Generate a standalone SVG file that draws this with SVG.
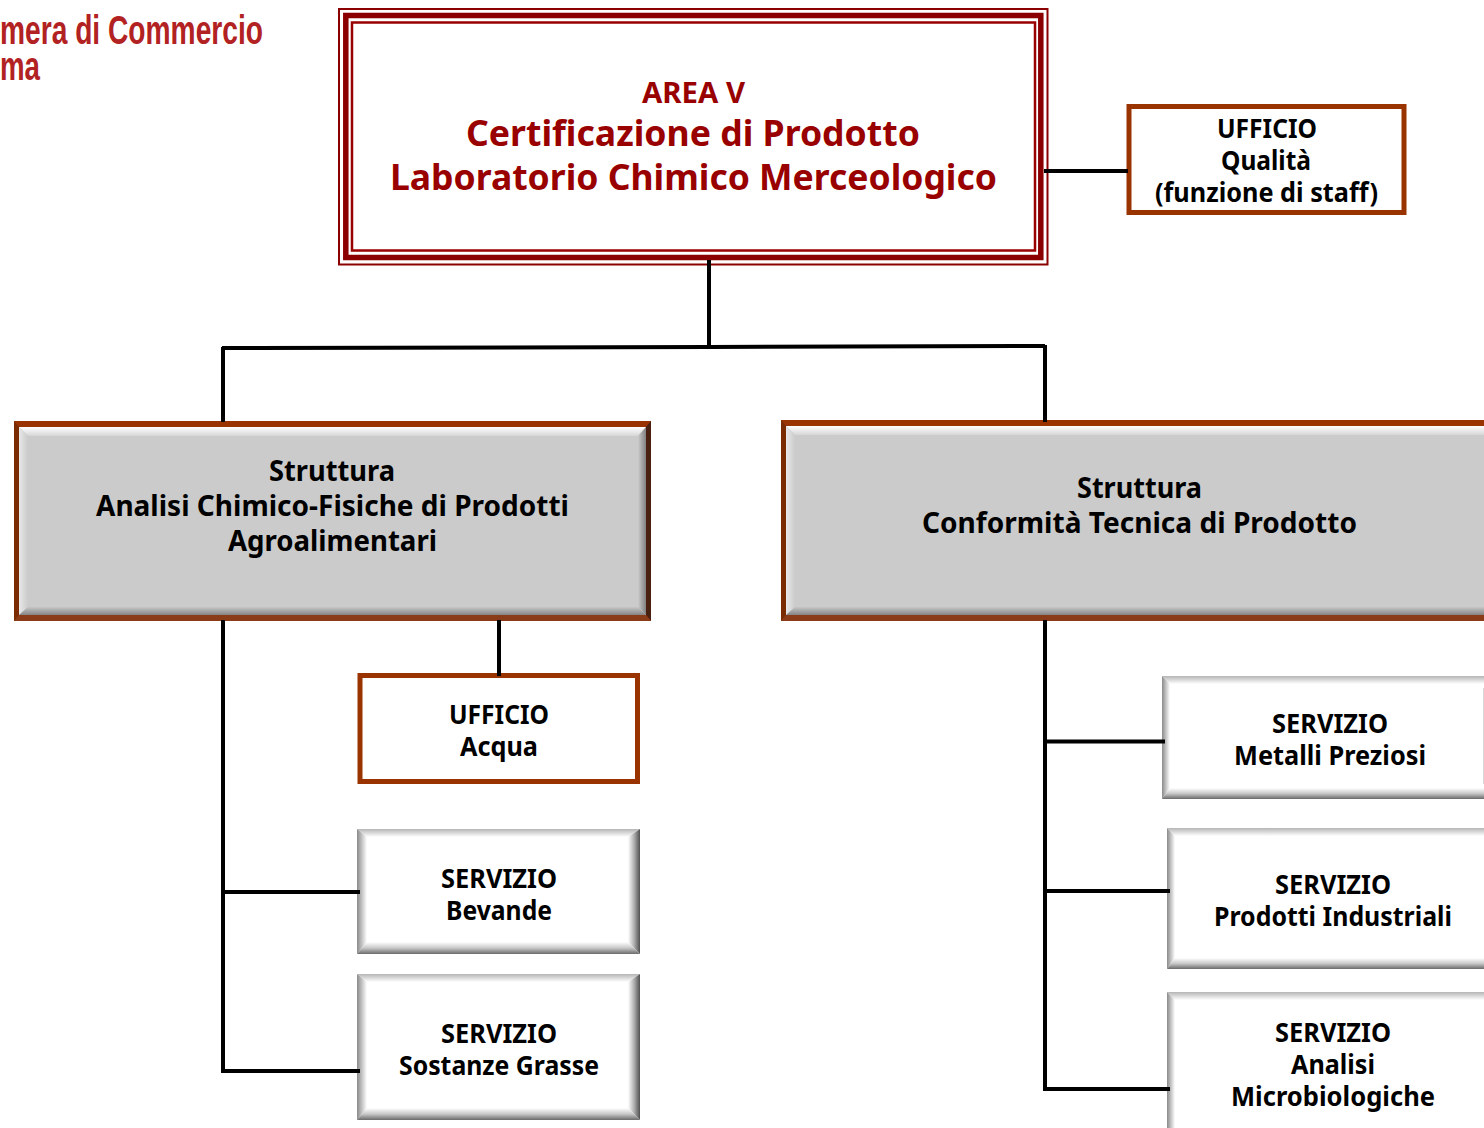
<svg xmlns="http://www.w3.org/2000/svg" width="1484" height="1128" viewBox="0 0 1484 1128">
<style>
text{font-family:"Noto Sans","Open Sans","Liberation Sans",sans-serif;font-weight:700;text-anchor:middle;fill:#000}
.s29{font-size:28.5px}.s26{font-size:26px;transform:translateY(.6px)}
.red{fill:#990000}
.logo{font-family:"Liberation Sans",sans-serif;fill:#b22222;text-anchor:start;font-size:40px}
.conn path{fill:none;stroke:#000;stroke-width:4}
.ufficio{fill:#fff;stroke:#993300;stroke-width:5}
.grey{fill:#cbcbcb}
</style>
<defs>
<linearGradient id="wt" x1="0" y1="0" x2="0" y2="1"><stop offset="0" stop-color="#b5b5b5"/><stop offset="1" stop-color="#fff"/></linearGradient>
<linearGradient id="wb" x1="0" y1="0" x2="0" y2="1"><stop offset="0" stop-color="#fff"/><stop offset=".5" stop-color="#c8c8c8"/><stop offset="1" stop-color="#6a6a6a"/></linearGradient>
<linearGradient id="wl" x1="0" y1="0" x2="1" y2="0"><stop offset="0" stop-color="#8a8a8a"/><stop offset="1" stop-color="#fff"/></linearGradient>
<linearGradient id="wr" x1="0" y1="0" x2="1" y2="0"><stop offset="0" stop-color="#fff"/><stop offset=".5" stop-color="#b0b0b0"/><stop offset="1" stop-color="#505050"/></linearGradient>
<linearGradient id="gt" x1="0" y1="0" x2="0" y2="1"><stop offset="0" stop-color="#fff"/><stop offset="1" stop-color="#d6d6d6"/></linearGradient>
<linearGradient id="gb" x1="0" y1="0" x2="0" y2="1"><stop offset="0" stop-color="#c6c6c6"/><stop offset="1" stop-color="#858585"/></linearGradient>
<linearGradient id="gl" x1="0" y1="0" x2="1" y2="0"><stop offset="0" stop-color="#e8e8e8"/><stop offset="1" stop-color="#cbcbcb"/></linearGradient>
<linearGradient id="gr" x1="0" y1="0" x2="1" y2="0"><stop offset="0" stop-color="#cbcbcb"/><stop offset="1" stop-color="#808080"/></linearGradient>
</defs>

<g id="logo">
<text class="logo" x="0" y="44" textLength="263" lengthAdjust="spacingAndGlyphs">mera di Commercio</text>
<text class="logo" x="0" y="80" textLength="40" lengthAdjust="spacingAndGlyphs">ma</text>
</g>

<g id="area-v">
<rect x="339" y="9" width="708.500" height="255.500" fill="#fff" stroke="#8b0000" stroke-width="2"/>
<rect x="345.800" y="15.500" width="695" height="242" fill="none" stroke="#8b0000" stroke-width="5.500"/>
<rect x="352" y="22.500" width="683" height="228" fill="none" stroke="#990000" stroke-width="2.500"/>
<text class="red" font-size="28.500" x="693.500" y="103" textLength="103" lengthAdjust="spacingAndGlyphs">AREA V</text>
<text class="red" font-size="36" x="693" y="146" textLength="454" lengthAdjust="spacingAndGlyphs">Certificazione di Prodotto</text>
<text class="red" font-size="36" x="693.500" y="190" textLength="607" lengthAdjust="spacingAndGlyphs">Laboratorio Chimico Merceologico</text>
</g>

<g id="ufficio-qualita">
<rect class="ufficio" x="1129" y="106.500" width="275" height="106"/>
<text class="s26" x="1267" y="137" textLength="100" lengthAdjust="spacingAndGlyphs">UFFICIO</text>
<text class="s26" x="1266" y="169" textLength="90" lengthAdjust="spacingAndGlyphs">Qualità</text>
<text class="s26" x="1266.500" y="201" textLength="223" lengthAdjust="spacingAndGlyphs">(funzione di staff)</text>
</g>

<g id="struttura-analisi">
<rect x="14" y="421" width="637" height="200" fill="#993300"/>
<polygon points="14,421 19,427 19,615 14,621" fill="#7a2c00"/>
<polygon points="651,421 646,427 646,615 651,621" fill="#4a2010"/>
<polygon points="14,621 19,615 646,615 651,621" fill="#8a3c18"/>
<rect class="grey" x="19" y="427" width="627" height="188"/>
<polygon points="19,427 646,427 638,436 28,436" fill="url(#gt)"/>
<polygon points="19,427 28,436 28,607 19,615" fill="url(#gl)"/>
<polygon points="646,427 638,436 638,607 646,615" fill="url(#gr)"/>
<polygon points="19,615 28,607 638,607 646,615" fill="url(#gb)"/>
<text class="s29" x="332" y="481" textLength="126" lengthAdjust="spacingAndGlyphs">Struttura</text>
<text class="s29" x="332.500" y="516" textLength="473" lengthAdjust="spacingAndGlyphs">Analisi Chimico-Fisiche di Prodotti</text>
<text class="s29" x="332.500" y="551" textLength="209" lengthAdjust="spacingAndGlyphs">Agroalimentari</text>
</g>

<g id="struttura-conformita">
<rect x="781" y="420" width="720" height="201" fill="#993300"/>
<polygon points="781,420 786,426 786,615 781,621" fill="#7a2c00"/>
<polygon points="781,621 786,615 1501,615 1501,621" fill="#8a3c18"/>
<rect class="grey" x="786" y="426" width="715" height="189"/>
<polygon points="786,426 1501,426 1501,435 795,435" fill="url(#gt)"/>
<polygon points="786,426 795,435 795,607 786,615" fill="url(#gl)"/>
<polygon points="786,615 795,607 1501,607 1501,615" fill="url(#gb)"/>
<text class="s29" x="1139.500" y="498" textLength="125" lengthAdjust="spacingAndGlyphs">Struttura</text>
<text class="s29" x="1139.500" y="533" textLength="435" lengthAdjust="spacingAndGlyphs">Conformità Tecnica di Prodotto</text>
</g>

<g id="ufficio-acqua">
<rect class="ufficio" x="360" y="675.500" width="277.500" height="106"/>
<text class="s26" x="499" y="723" textLength="100" lengthAdjust="spacingAndGlyphs">UFFICIO</text>
<text class="s26" x="499" y="755" textLength="78" lengthAdjust="spacingAndGlyphs">Acqua</text>
</g>

<g id="servizio-bevande">
<rect x="357" y="829" width="283" height="125" fill="#fff"/>
<polygon points="357,829 640,829 628,837 367,837" fill="url(#wt)"/>
<polygon points="357,829 367,837 367,942 357,954" fill="url(#wl)"/>
<polygon points="640,829 628,837 628,942 640,954" fill="url(#wr)"/>
<polygon points="357,954 367,942 628,942 640,954" fill="url(#wb)"/>
<text class="s26" x="499" y="887" textLength="116" lengthAdjust="spacingAndGlyphs">SERVIZIO</text>
<text class="s26" x="499" y="919" textLength="106" lengthAdjust="spacingAndGlyphs">Bevande</text>
</g>

<g id="servizio-sostanze-grasse">
<rect x="357" y="974" width="283" height="146" fill="#fff"/>
<polygon points="357,974 640,974 628,982 367,982" fill="url(#wt)"/>
<polygon points="357,974 367,982 367,1108 357,1120" fill="url(#wl)"/>
<polygon points="640,974 628,982 628,1108 640,1120" fill="url(#wr)"/>
<polygon points="357,1120 367,1108 628,1108 640,1120" fill="url(#wb)"/>
<text class="s26" x="499" y="1042" textLength="116" lengthAdjust="spacingAndGlyphs">SERVIZIO</text>
<text class="s26" x="499" y="1074" textLength="200" lengthAdjust="spacingAndGlyphs">Sostanze Grasse</text>
</g>

<g id="servizio-metalli-preziosi">
<rect x="1162" y="676" width="340" height="123" fill="#fff"/>
<polygon points="1162,676 1502,676 1502,684 1170,684" fill="url(#wt)"/>
<polygon points="1162,676 1170,684 1170,788 1162,799" fill="url(#wl)"/>
<polygon points="1162,799 1170,788 1502,788 1502,799" fill="url(#wb)"/>
<rect x="1483" y="688" width="1" height="96" fill="#d8d8d8"/>
<text class="s26" x="1330" y="732" textLength="116" lengthAdjust="spacingAndGlyphs">SERVIZIO</text>
<text class="s26" x="1330" y="764" textLength="192" lengthAdjust="spacingAndGlyphs">Metalli Preziosi</text>
</g>

<g id="servizio-prodotti-industriali">
<rect x="1167" y="828" width="335" height="141" fill="#fff"/>
<polygon points="1167,828 1502,828 1502,836 1175,836" fill="url(#wt)"/>
<polygon points="1167,828 1175,836 1175,958 1167,969" fill="url(#wl)"/>
<polygon points="1167,969 1175,958 1502,958 1502,969" fill="url(#wb)"/>
<text class="s26" x="1333" y="893" textLength="116" lengthAdjust="spacingAndGlyphs">SERVIZIO</text>
<text class="s26" x="1333" y="925" textLength="238" lengthAdjust="spacingAndGlyphs">Prodotti Industriali</text>
</g>

<g id="servizio-analisi-microbiologiche">
<rect x="1167" y="992" width="335" height="160" fill="#fff"/>
<polygon points="1167,992 1502,992 1502,1000 1175,1000" fill="url(#wt)"/>
<polygon points="1167,992 1175,1000 1175,1141 1167,1152" fill="url(#wl)"/>
<text class="s26" x="1333" y="1041" textLength="116" lengthAdjust="spacingAndGlyphs">SERVIZIO</text>
<text class="s26" x="1333" y="1073" textLength="84" lengthAdjust="spacingAndGlyphs">Analisi</text>
<text class="s26" x="1333" y="1105" textLength="204" lengthAdjust="spacingAndGlyphs">Microbiologiche</text>
</g>

<g id="connectors" class="conn">
<path d="M709 260V347"/>
<path d="M222 348L709 347L1045 346"/>
<path d="M223 347V422"/>
<path d="M1045 345V422"/>
<path d="M1044 171H1128"/>
<path d="M223 620V1071H360"/>
<path d="M223 892H360"/>
<path d="M499 620V676"/>
<path d="M1045 620V1089H1170"/>
<path d="M1045 741.500H1165"/>
<path d="M1045 891H1170"/>
</g>
</svg>
